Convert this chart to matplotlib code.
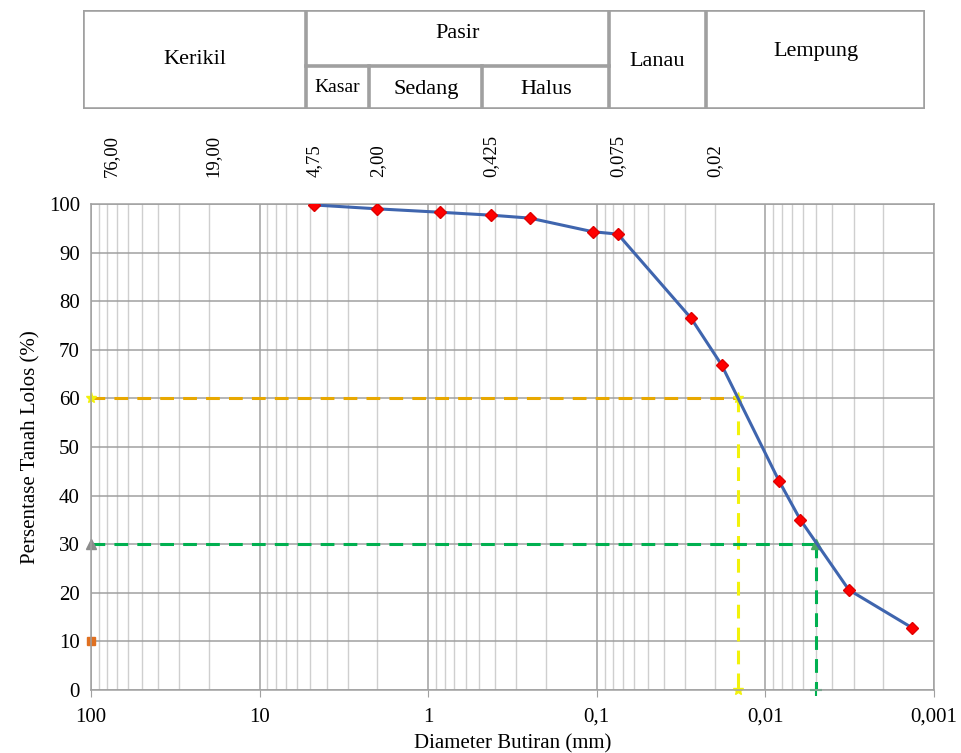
import numpy as np
import matplotlib.pyplot as plt
from matplotlib.ticker import FixedLocator, LogLocator, NullFormatter
import matplotlib.transforms as mtransforms

plt.rcParams['font.family'] = ['Liberation Serif', 'DejaVu Serif']

# Grain size distribution (hydrometer + sieve)
diameter = [4.75, 2.00, 0.85, 0.425, 0.25, 0.106, 0.075,
            0.0276, 0.0182, 0.0083, 0.0062, 0.0032, 0.00135]
passing = [99.8, 99.0, 98.3, 97.7, 97.1, 94.3, 93.8,
           76.5, 66.9, 43.0, 35.0, 20.6, 12.8]

# Characteristic diameters
d60, d30 = 0.0146, 0.0050

# Soil classification boundaries (mm)
bounds = [76.00, 19.00, 4.75, 2.00, 0.425, 0.075, 0.02]
bound_labels = ["76,00", "19,00", "4,75", "2,00", "0,425", "0,075", "0,02"]

x_ticks = [100, 10, 1, 0.1, 0.01, 0.001]
x_ticklabels = ["100", "10", "1", "0,1", "0,01", "0,001"]

fig = plt.figure(figsize=(9.62, 7.53), dpi=100)
ax = fig.add_axes([0.0946, 0.0837, 0.8763, 0.6454])

ax.set_xscale('log')
ax.set_xlim(100, 0.001)
ax.set_ylim(0, 100)

ax.xaxis.set_major_locator(FixedLocator(x_ticks))
ax.set_xticklabels(x_ticklabels)
ax.xaxis.set_minor_locator(LogLocator(base=10, subs=np.arange(2, 10)))
ax.xaxis.set_minor_formatter(NullFormatter())
ax.set_yticks(np.arange(0, 101, 10))

ax.grid(which='major', color='#a0a0a0', linewidth=1.1)
ax.grid(which='minor', axis='x', color='#cfcfcf', linewidth=1.0)
ax.set_axisbelow(True)
for s in ax.spines.values():
    s.set_color('#a0a0a0')
    s.set_linewidth(1.1)
ax.tick_params(axis='both', which='both', length=0, labelsize=15, pad=8)
ax.tick_params(axis='x', which='major', length=5, color='#a0a0a0', direction='out')

ax.set_xlabel("Diameter Butiran (mm)", fontsize=15, labelpad=5)
ax.set_ylabel("Persentase Tanah Lolos (%)", fontsize=15, labelpad=6)

# D60 / D30 guide lines
dash = (0, (4.5, 3))
ax.plot([100, d60], [60, 60], color='#E8A800', ls=dash, lw=2.2)
ax.plot([d60, d60], [60, 0], color='#F2F20A', ls=dash, lw=2.2)
ax.plot([100, d30], [30, 30], color='#00B050', ls=dash, lw=2.2)
ax.plot([d30, d30], [30, 0], color='#00B050', ls=dash, lw=2.2)

ax.plot([100, d60, d60], [60, 60, 0], ls='none', marker='*', ms=8,
        color='#F2F20A', clip_on=False)
ax.plot([100], [30], ls='none', marker='^', ms=7, color='#8c8c8c', clip_on=False)
ax.plot([d30], [30], ls='none', marker='^', ms=7, color='#4aa860', clip_on=False)
ax.plot([d30], [0], ls='none', marker='+', ms=8, mew=1.5, color='#00B050', clip_on=False)
ax.plot([100], [10], ls='none', marker='s', ms=6, color='#E07020', clip_on=False)

# Grading curve
ax.plot(diameter, passing, color='#3F65AE', lw=2.2, marker='D', ms=6,
        mfc='#FF0000', mec='#E00000', zorder=5)

# Boundary values above the plot
trans = mtransforms.blended_transform_factory(ax.transData, fig.transFigure)
for b, lab in zip(bounds, bound_labels):
    fig.text(b, 0.765, lab, transform=trans, rotation=90,
             ha='center', va='bottom', fontsize=13.5)

# Classification table
tab = fig.add_axes([0.0863, 0.8552, 0.8753, 0.1315])
tab.set_xscale('log')
tab.set_xlim(100, 0.001)
tab.set_ylim(0, 1)
tab.axis('off')
edge = dict(color='#a0a0a0', lw=2.6, solid_capstyle='projecting')
tab.plot([100, 0.001, 0.001, 100, 100], [0, 0, 1, 1, 0], **edge)
for b in [4.75, 0.075, 0.02]:
    tab.plot([b, b], [0, 1], **edge)
for b in [2.00, 0.425]:
    tab.plot([b, b], [0, 0.43], **edge)
tab.plot([4.75, 0.075], [0.43, 0.43], **edge)

geo = lambda a, b: np.sqrt(a * b)
tab.text(geo(100, 4.75), 0.5, "Kerikil", ha='center', va='center', fontsize=16)
tab.text(geo(4.75, 0.075), 0.76, "Pasir", ha='center', va='center', fontsize=16)
tab.text(geo(4.75, 2.00), 0.22, "Kasar", ha='center', va='center', fontsize=14)
tab.text(geo(2.00, 0.425), 0.2, "Sedang", ha='center', va='center', fontsize=16)
tab.text(geo(0.425, 0.075), 0.2, "Halus", ha='center', va='center', fontsize=16)
tab.text(geo(0.075, 0.02), 0.48, "Lanau", ha='center', va='center', fontsize=16)
tab.text(geo(0.02, 0.001), 0.58, "Lempung", ha='center', va='center', fontsize=16)

fig.savefig("out.png", dpi=100)
